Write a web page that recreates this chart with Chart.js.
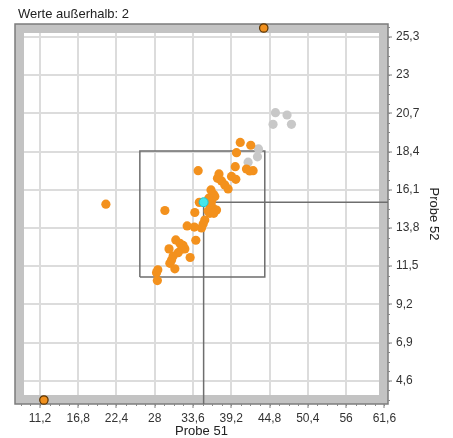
<!DOCTYPE html>
<html>
<head>
<meta charset="utf-8">
<script src="https://cdn.jsdelivr.net/npm/chart.js@4"></script>
<style>
  body { margin: 0; background: #fff; }
  canvas { display: block; }
</style>
</head>
<body>
<canvas id="chart" width="453" height="438"></canvas>
<script>
// Werte
const xTicks = [11.2, 16.8, 22.4, 28, 33.6, 39.2, 44.8, 50.4, 56, 61.6];
const yTicks = [4.6, 6.9, 9.2, 11.5, 13.8, 16.1, 18.4, 20.7, 23, 25.3];

const orangeX = [20.85, 29.48, 34.35, 40.51, 42.05, 39.96, 39.78, 41.42, 41.90, 42.39, 37.40, 37.18, 39.23, 39.86, 37.77, 38.25, 38.73, 36.23, 36.61, 36.79, 35.91, 34.52, 36.30, 36.06, 36.54, 37.04, 35.81, 36.06, 36.64, 33.86, 35.32, 35.08, 34.84, 32.74, 33.79, 34.01, 31.08, 31.67, 32.15, 32.40, 31.92, 31.42, 30.09, 30.69, 30.46, 30.21, 33.18, 30.94, 28.45, 28.26, 28.38];
const orangeY = [15.23, 14.85, 17.25, 18.95, 18.78, 18.33, 17.49, 17.35, 17.23, 17.25, 17.05, 16.79, 16.90, 16.73, 16.63, 16.39, 16.15, 16.09, 15.82, 15.70, 15.59, 15.34, 15.38, 15.18, 14.99, 14.88, 14.82, 14.68, 14.68, 14.73, 14.28, 14.04, 13.80, 13.92, 13.85, 13.06, 13.08, 12.88, 12.75, 12.54, 12.52, 12.31, 12.54, 12.11, 11.87, 11.67, 12.02, 11.34, 11.28, 11.11, 10.63];

const grayX = [45.66, 47.36, 45.31, 48.00, 43.18, 43.03, 41.66];
const grayY = [20.74, 20.60, 20.04, 20.04, 18.56, 18.08, 17.76];

// Werte außerhalb
const outX = [11.78, 43.95];
const outY = [3.44, 25.84];

const cyanX = [35.15];
const cyanY = [15.35];

const boxX = [25.82, 44.10];
const boxY = [10.85, 18.44];

const X_MIN = 7.55, X_MAX = 62.13;
const Y_MIN = 3.2, Y_MAX = 26.08;

const BAND = 9;

function pts(xs, ys) {
    return xs.map((x, i) => ({ x: x, y: ys[i] }));
}

function fmt(v) {
    return String(v).replace('.', ',');
}

// Rahmen mit grauem Band
const framePlugin = {
    id: 'frame',
    beforeDatasetsDraw(chart) {
        const { ctx, chartArea: a } = chart;
        ctx.save();
        ctx.fillStyle = '#c3c3c3';
        ctx.fillRect(a.left, a.top, a.right - a.left, BAND);
        ctx.fillRect(a.left, a.bottom - BAND, a.right - a.left, BAND);
        ctx.fillRect(a.left, a.top, BAND, a.bottom - a.top);
        ctx.fillRect(a.right - BAND, a.top, BAND, a.bottom - a.top);
        ctx.strokeStyle = '#7c7c7c';
        ctx.lineWidth = 1.5;
        ctx.strokeRect(a.left, a.top, a.right - a.left, a.bottom - a.top);
        ctx.restore();
    },
    afterDraw(chart) {
        const { ctx, chartArea: a } = chart;
        const xs = chart.scales.x, ys = chart.scales.y;
        ctx.save();
        ctx.strokeStyle = '#8a8a8a';
        ctx.lineWidth = 1;
        // Zwischenstriche
        const xStep = (xTicks[1] - xTicks[0]) / 4;
        for (let v = xTicks[0] - 3 * xStep; v <= X_MAX; v += xStep) {
            if (v < X_MIN) continue;
            const px = Math.round(xs.getPixelForValue(v)) + 0.5;
            ctx.beginPath();
            ctx.moveTo(px, a.bottom);
            ctx.lineTo(px, a.bottom + 2);
            ctx.stroke();
        }
        const yStep = (yTicks[1] - yTicks[0]) / 4;
        for (let v = yTicks[0] - 3 * yStep; v <= Y_MAX; v += yStep) {
            if (v < Y_MIN) continue;
            const py = Math.round(ys.getPixelForValue(v)) + 0.5;
            ctx.beginPath();
            ctx.moveTo(a.right, py);
            ctx.lineTo(a.right + 2, py);
            ctx.stroke();
        }
        ctx.fillStyle = '#222';
        ctx.font = '13px "Liberation Sans", Arial, sans-serif';
        ctx.textBaseline = 'middle';
        ctx.fillText('Werte außerhalb: ' + outX.length, 18, 14.5);
        ctx.restore();
    }
};

const ctx = document.getElementById('chart').getContext('2d');
new Chart(ctx, {
    type: 'scatter',
    data: {
        datasets: [
            {
                label: 'Ausgewählt',
                data: pts(cyanX, cyanY),
                backgroundColor: '#45e6ea',
                borderColor: '#1fc4d0',
                borderWidth: 1,
                pointRadius: 4.5,
                order: 0
            },
            {
                label: 'Außerhalb',
                data: pts(outX, outY),
                backgroundColor: '#f0901e',
                borderColor: '#5a3300',
                borderWidth: 1.2,
                pointRadius: 4.2,
                clip: false,
                order: 1
            },
            {
                label: 'Werte',
                data: pts(orangeX, orangeY),
                backgroundColor: '#f3911d',
                borderWidth: 0,
                pointRadius: 4.6,
                order: 2
            },
            {
                label: 'Ausgeblendet',
                data: pts(grayX, grayY),
                backgroundColor: '#c8c8c8',
                borderWidth: 0,
                pointRadius: 4.6,
                order: 3
            },
            {
                label: 'Kreuz senkrecht',
                data: [{ x: cyanX[0], y: cyanY[0] }, { x: cyanX[0], y: Y_MIN }],
                showLine: true,
                borderColor: '#6e6e6e',
                borderWidth: 1.5,
                pointRadius: 0,
                order: 4
            },
            {
                label: 'Kreuz waagrecht',
                data: [{ x: cyanX[0], y: cyanY[0] }, { x: X_MAX, y: cyanY[0] }],
                showLine: true,
                borderColor: '#6e6e6e',
                borderWidth: 1.5,
                pointRadius: 0,
                order: 4
            },
            {
                label: 'Bereich',
                data: [
                    { x: boxX[0], y: boxY[0] },
                    { x: boxX[1], y: boxY[0] },
                    { x: boxX[1], y: boxY[1] },
                    { x: boxX[0], y: boxY[1] },
                    { x: boxX[0], y: boxY[0] }
                ],
                showLine: true,
                borderColor: '#6e6e6e',
                borderWidth: 1.5,
                pointRadius: 0,
                order: 5
            }
        ]
    },
    options: {
        responsive: false,
        animation: false,
        devicePixelRatio: 1,
        layout: {
            padding: { left: 15, top: 24, right: 0, bottom: 0 }
        },
        plugins: {
            legend: { display: false },
            tooltip: { enabled: false },
            title: { display: false }
        },
        scales: {
            x: {
                type: 'linear',
                position: 'bottom',
                min: X_MIN,
                max: X_MAX,
                afterBuildTicks: scale => {
                    scale.ticks = xTicks.map(v => ({ value: v }));
                },
                afterFit: scale => {
                    scale.height = 34;
                },
                grid: {
                    color: '#dcdcdc',
                    lineWidth: 2,
                    drawTicks: true,
                    tickLength: 4,
                    tickColor: '#808080',
                    tickWidth: 1
                },
                border: { display: false },
                ticks: {
                    padding: 3,
                    color: '#333',
                    font: { family: '"Liberation Sans", Arial, sans-serif', size: 12 },
                    maxRotation: 0,
                    autoSkip: false,
                    callback: v => fmt(v)
                },
                title: {
                    display: true,
                    text: 'Probe 51',
                    color: '#222',
                    padding: { top: 0, bottom: 0 },
                    font: { family: '"Liberation Sans", Arial, sans-serif', size: 13, lineHeight: 1 }
                }
            },
            y: {
                type: 'linear',
                position: 'right',
                min: Y_MIN,
                max: Y_MAX,
                afterBuildTicks: scale => {
                    scale.ticks = yTicks.map(v => ({ value: v }));
                },
                afterFit: scale => {
                    scale.width = 65;
                },
                grid: {
                    color: '#dcdcdc',
                    lineWidth: 2,
                    drawTicks: true,
                    tickLength: 4,
                    tickColor: '#808080',
                    tickWidth: 1
                },
                border: { display: false },
                ticks: {
                    padding: 4,
                    color: '#333',
                    font: { family: '"Liberation Sans", Arial, sans-serif', size: 12 },
                    autoSkip: false,
                    callback: v => fmt(v)
                },
                title: {
                    display: true,
                    text: 'Probe 52',
                    color: '#222',
                    padding: { top: 13, bottom: 0 },
                    font: { family: '"Liberation Sans", Arial, sans-serif', size: 13, lineHeight: 1 }
                }
            }
        }
    },
    plugins: [framePlugin]
});
</script>
</body>
</html>
